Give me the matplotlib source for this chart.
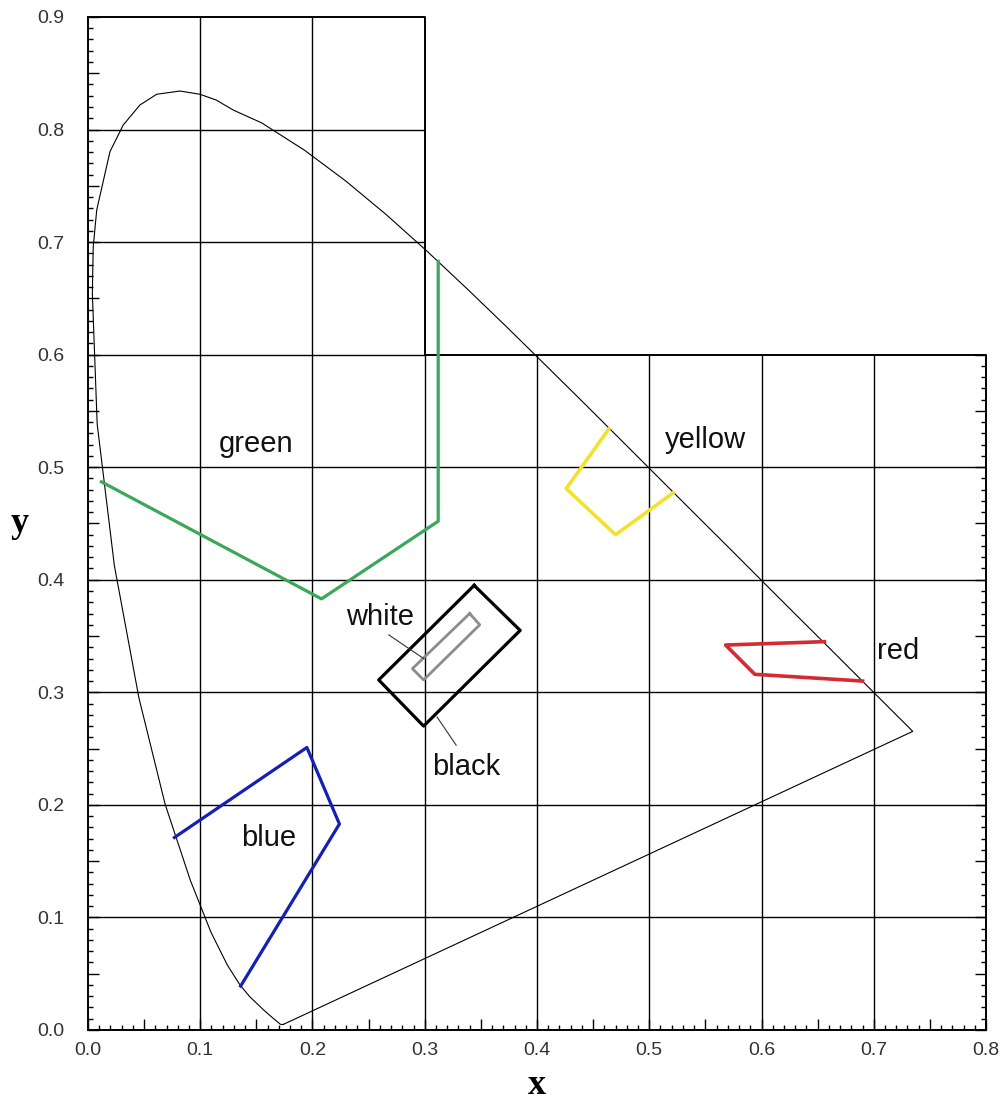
import numpy as np
import matplotlib.pyplot as plt
from matplotlib.ticker import MultipleLocator, FuncFormatter

# spectral locus, points
locus_x = [0.1741, 0.1733, 0.1714, 0.1644, 0.1566, 0.1440, 0.1355, 0.1241, 0.1096,
           0.0913, 0.0687, 0.0454, 0.0235, 0.0082, 0.0039, 0.0047, 0.0078, 0.0196,
           0.0314, 0.0463, 0.0612, 0.0820, 0.0998, 0.1142, 0.1294, 0.1547, 0.1929,
           0.2296, 0.2658, 0.3016, 0.3373, 0.3731, 0.4087, 0.4441, 0.4788, 0.5125,
           0.5448, 0.5752, 0.6029, 0.6270, 0.6658, 0.6915, 0.7079, 0.7190, 0.7260,
           0.7300, 0.7334, 0.7347]
locus_y = [0.0050, 0.0048, 0.0051, 0.0109, 0.0177, 0.0297, 0.0399, 0.0578, 0.0868,
           0.1327, 0.2007, 0.2950, 0.4127, 0.5384, 0.6548, 0.6959, 0.7285, 0.7803,
           0.8040, 0.8218, 0.8313, 0.8342, 0.8313, 0.8262, 0.8173, 0.8059, 0.7816,
           0.7543, 0.7243, 0.6923, 0.6589, 0.6245, 0.5896, 0.5547, 0.5202, 0.4866,
           0.4544, 0.4242, 0.3965, 0.3725, 0.3340, 0.3083, 0.2920, 0.2809, 0.2740,
           0.2700, 0.2666, 0.2653]

green_x = [0.012, 0.208, 0.312, 0.312]
green_y = [0.487, 0.383, 0.452, 0.683]
yellow_x = [0.464, 0.426, 0.470, 0.521]
yellow_y = [0.534, 0.481, 0.440, 0.477]
red_x = [0.656, 0.568, 0.594, 0.690]
red_y = [0.345, 0.342, 0.316, 0.310]
blue_x = [0.077, 0.195, 0.224, 0.136]
blue_y = [0.171, 0.251, 0.183, 0.039]
black_x = [0.344, 0.385, 0.299, 0.259, 0.344]
black_y = [0.395, 0.355, 0.270, 0.311, 0.395]
white_x = [0.340, 0.349, 0.299, 0.289, 0.340]
white_y = [0.370, 0.360, 0.311, 0.321, 0.370]

# labels: text, x, y
labels = [("green", 0.150, 0.521), ("yellow", 0.550, 0.524), ("red", 0.722, 0.337),
          ("white", 0.260, 0.367), ("black", 0.337, 0.234), ("blue", 0.161, 0.171)]

fig = plt.figure(figsize=(10.03, 11.08), dpi=100)
ax = fig.add_axes([0.0877, 0.0704, 0.8954, 0.9143])
ax.set_xlim(0, 0.8)
ax.set_ylim(0, 0.9)

# partial grid
for gx in [0.1, 0.2]:
    ax.vlines(gx, 0, 0.9, color='black', lw=1.0, zorder=1)
for gx in [0.3, 0.4, 0.5, 0.6, 0.7]:
    ax.vlines(gx, 0, 0.6, color='black', lw=1.0, zorder=1)
for gy in [0.1, 0.2, 0.3, 0.4, 0.5]:
    ax.hlines(gy, 0, 0.8, color='black', lw=1.0, zorder=1)
for gy in [0.6, 0.7, 0.8]:
    ax.hlines(gy, 0, 0.3, color='black', lw=1.0, zorder=1)

# stepped frame
ax.plot([0, 0.3, 0.3, 0.8, 0.8], [0.9, 0.9, 0.6, 0.6, 0], color='black', lw=1.4,
        clip_on=False, zorder=2)
for s in ['top', 'right']:
    ax.spines[s].set_visible(False)
for s in ['left', 'bottom']:
    ax.spines[s].set_linewidth(1.4)

# locus, closed with purple line
ax.plot(locus_x + [locus_x[0]], locus_y + [locus_y[0]], color='black', lw=0.8, zorder=3)

ax.plot(green_x, green_y, color='#3aa858', lw=2.3, zorder=4)
ax.plot(yellow_x, yellow_y, color='#f2e22e', lw=2.6, zorder=4)
ax.plot(red_x, red_y, color='#d42a32', lw=2.6, zorder=4)
ax.plot(blue_x, blue_y, color='#1420b4', lw=2.3, zorder=4)
ax.plot(black_x, black_y, color='black', lw=2.3, zorder=4)
ax.plot(white_x, white_y, color='#8c8c8c', lw=2.0, zorder=4)

# leader lines
ax.plot([0.268, 0.299], [0.351, 0.330], color='#333333', lw=0.8, zorder=4)
ax.plot([0.311, 0.328], [0.278, 0.253], color='#333333', lw=0.8, zorder=4)

for t, lx, ly in labels:
    ax.text(lx, ly, t, fontsize=21, family='Liberation Sans', ha='center', va='center',
            color='#111111', zorder=5)

# ticks
fmt = FuncFormatter(lambda v, p: "%.1f" % v if abs(round(v * 10) - v * 10) < 1e-6 else "")
for a in [ax.xaxis, ax.yaxis]:
    a.set_major_locator(MultipleLocator(0.05))
    a.set_minor_locator(MultipleLocator(0.01))
    a.set_major_formatter(fmt)
ax.tick_params(which='major', direction='in', length=8, width=1.0, labelsize=14,
               labelcolor='#333333')
ax.tick_params(which='minor', direction='in', length=3.5, width=1.0)
ax.tick_params(axis='y', which='major', pad=17)
ax.tick_params(axis='x', which='major', pad=9)
for lab in ax.get_xticklabels() + ax.get_yticklabels():
    lab.set_family(['Liberation Sans Narrow', 'Liberation Sans'])

# right ticks, only along the lower part
axr = ax.inset_axes([0, 0, 1, 0.6 / 0.9])
axr.set_ylim(0, 0.6)
axr.patch.set_visible(False)
for s in axr.spines.values():
    s.set_visible(False)
axr.set_xticks([])
axr.yaxis.tick_right()
axr.yaxis.set_major_locator(MultipleLocator(0.05))
axr.yaxis.set_minor_locator(MultipleLocator(0.01))
axr.tick_params(which='major', direction='in', length=8, width=1.0, labelright=False)
axr.tick_params(which='minor', direction='in', length=3.5, width=1.0)

ax.set_xlabel("x", fontsize=26, family='Liberation Serif', fontweight='bold', va='center')
ax.set_ylabel("y", fontsize=26, family='Liberation Serif', fontweight='bold', rotation=0,
              va='center', ha='center')
ax.xaxis.set_label_coords(0.5, -0.055)
ax.yaxis.set_label_coords(-0.076, 0.5)

plt.savefig("out.png", dpi=100)
